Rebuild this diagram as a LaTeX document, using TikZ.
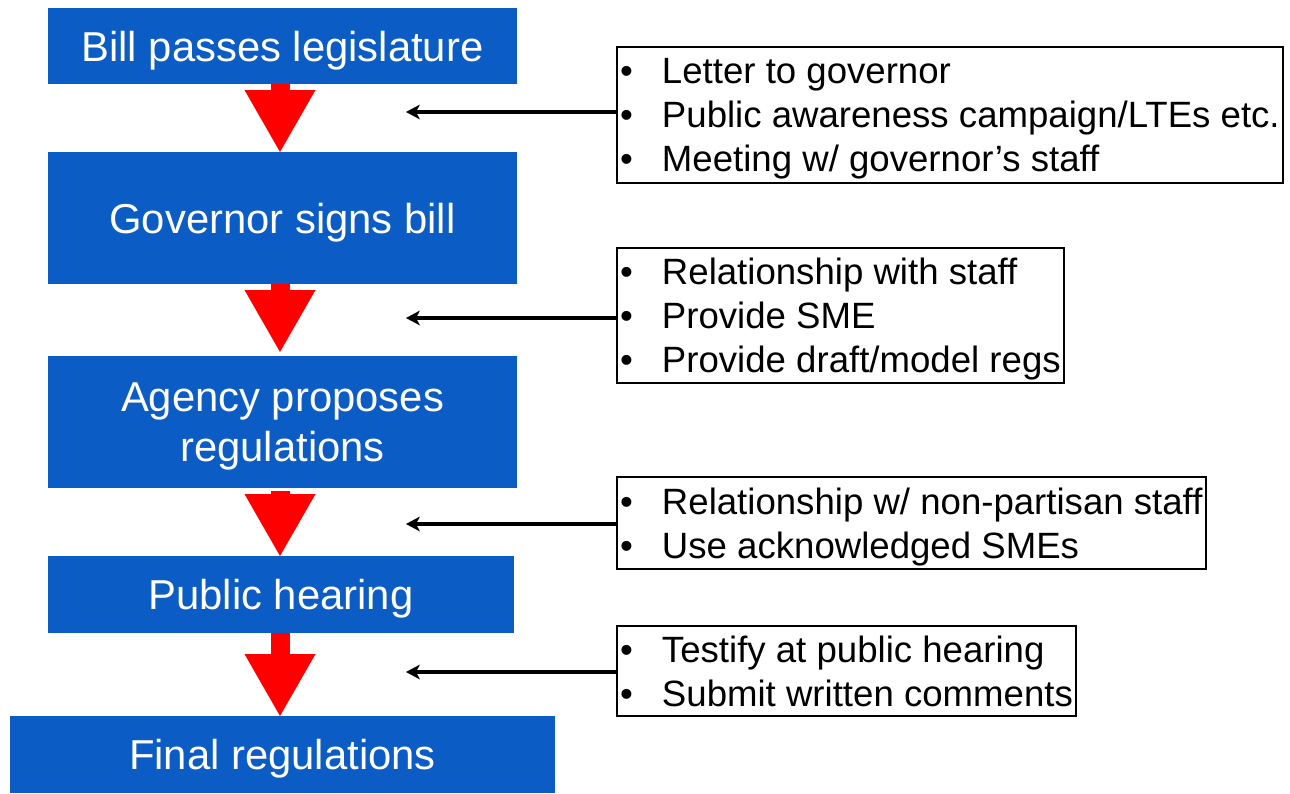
\documentclass[tikz,border=0pt]{standalone}
\usepackage{fontspec}
\setmainfont{Liberation Sans}
\usepackage{tikz}
\usetikzlibrary{arrows.meta}
\definecolor{stageblue}{RGB}{11,92,196}
\tikzset{
  stage/.style={fill=stageblue,text=white,inner sep=0pt,outer sep=0pt,align=center,text depth=0pt,
    font=\fontsize{41.8pt}{50pt}\selectfont},
  note/.style={draw=black,line width=2pt,anchor=west,inner xsep=3pt,inner ysep=0pt,align=left,text depth=0pt,
    font=\fontsize{36.6pt}{44pt}\selectfont},
  flow/.style={color=red,line width=19pt,-{Triangle[length=62pt,width=71pt,line width=0pt]}},
  hint/.style={color=black,line width=3.5pt,-{Stealth[length=14pt,width=15pt,inset=4pt,line width=0pt]}},
}
\newcommand{\itm}[1]{\makebox[42pt][l]{\textbullet}#1}

\begin{document}
\begin{tikzpicture}[x=1pt,y=-1pt]
      \useasboundingbox (0,0) rectangle (1290,793);
      \node[stage,minimum width=469pt,minimum height=76pt] (bill) at (282.5,46) {Bill passes legislature};
      \node[stage,minimum width=469pt,minimum height=132pt] (sign) at (282.5,218) {Governor signs bill};
      \node[stage,minimum width=469pt,minimum height=132pt] (agency) at (282.5,422) {Agency proposes\\regulations};
      \node[stage,minimum width=466pt,minimum height=77pt] (hearing) at (281,594.5) {Public hearing};
      \node[stage,minimum width=545pt,minimum height=77pt] (final) at (282.5,754.5) {Final regulations};

      \node[note,minimum height=136pt] (lobby) at (616,115)
        {\itm{Letter to governor}\\\itm{Public awareness campaign/LTEs etc.}\\\itm{Meeting w/ governor’s staff}};
      \node[note,minimum height=135pt] (staff) at (616,315.5)
        {\itm{Relationship with staff}\\\itm{Provide SME}\\\itm{Provide draft/model regs}};
      \node[note,minimum height=92pt] (expert) at (616,523)
        {\itm{Relationship w/ non-partisan staff}\\\itm{Use acknowledged SMEs}};
      \node[note,minimum height=90pt] (comment) at (616,671)
        {\itm{Testify at public hearing}\\\itm{Submit written comments}};

      \coordinate (t1) at (406,112);
      \coordinate (t2) at (406,318);
      \coordinate (t3) at (406,524);
      \coordinate (t4) at (406,672);

      \path ([xshift=-2.5pt]bill.south) edge[flow] ([xshift=-2.5pt]sign.north);
      \path ([xshift=-2.5pt]sign.south) edge[flow,shorten >=4pt] ([xshift=-2.5pt]agency.north);
      \path ([xshift=-2.5pt]agency.south) edge[flow,shorten <=3pt] ([xshift=-1pt]hearing.north);
      \path ([xshift=-1pt]hearing.south) edge[flow] ([xshift=-2.5pt]final.north);

      \path (lobby.west |- t1) edge[hint] (t1);
      \path (staff.west |- t2) edge[hint] (t2);
      \path (expert.west |- t3) edge[hint] (t3);
      \path (comment.west |- t4) edge[hint] (t4);
\end{tikzpicture}
\end{document}
